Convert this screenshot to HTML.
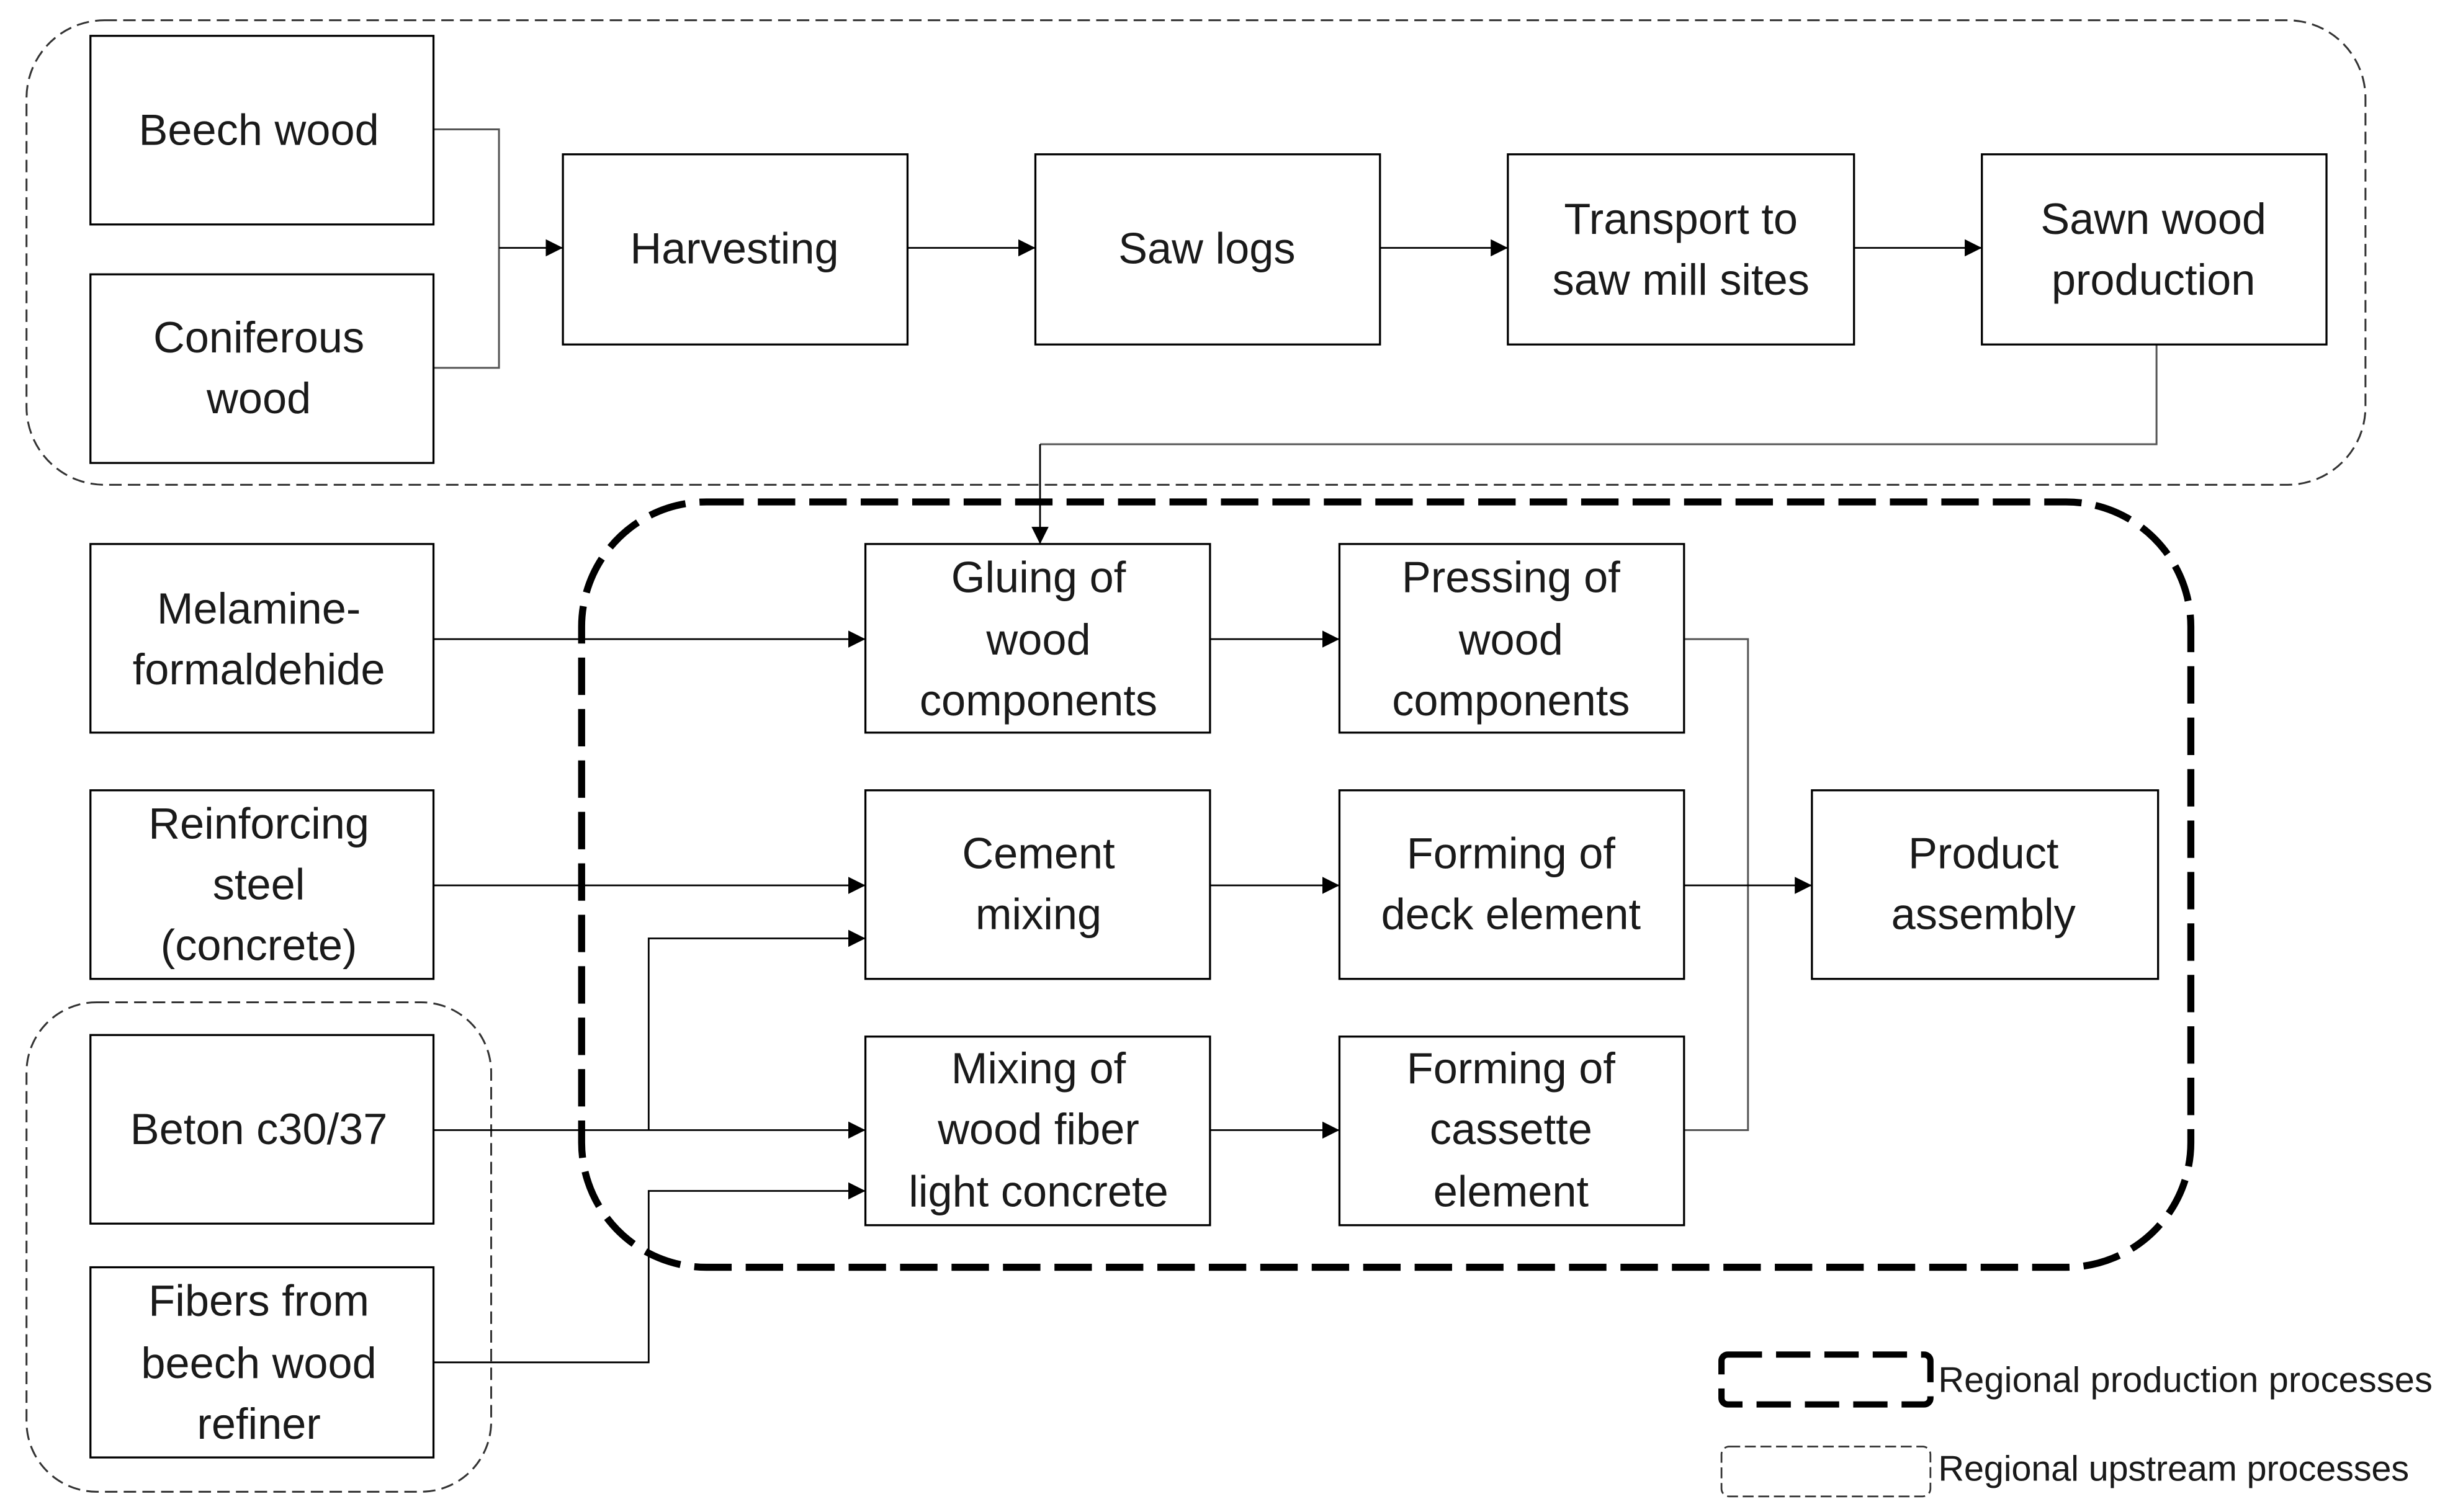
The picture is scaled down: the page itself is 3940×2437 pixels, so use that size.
<!DOCTYPE html>
<html><head><meta charset="utf-8"><style>
html,body{margin:0;padding:0;background:#fff;}
svg{display:block;}
text{font-family:"Liberation Sans",sans-serif;font-size:28px;fill:#1a1a1a;text-anchor:middle;}
.lg{font-size:23px;text-anchor:start;}
.b{fill:#fff;stroke:#000;stroke-width:1.3;}
.l{fill:none;stroke:#000;stroke-width:1.1;}
.g{fill:none;stroke:#555;stroke-width:1.2;}
</style></head><body>
<svg width="3940" height="2437" viewBox="0 0 1568 970" preserveAspectRatio="none">
<defs><marker id="a" viewBox="0 0 10 10" refX="10" refY="5" markerWidth="11" markerHeight="11" markerUnits="userSpaceOnUse" orient="auto"><path d="M0,0L10,5L0,10z" fill="#000"/></marker></defs>
<rect x="17" y="13" width="1500" height="298" rx="50" fill="none" stroke="#333" stroke-width="1.2" stroke-dasharray="8,4"/>
<rect x="17" y="643" width="298" height="314" rx="45" fill="none" stroke="#333" stroke-width="1.2" stroke-dasharray="8,4"/>
<rect x="373" y="322" width="1032" height="491" rx="80" fill="none" stroke="#000" stroke-width="4.5" stroke-dasharray="24,9"/>
<polyline class="g" points="278,83 320,83 320,236 278,236"/>
<line class="l" x1="320" y1="159" x2="361" y2="159" marker-end="url(#a)"/>
<line class="l" x1="582" y1="159" x2="664" y2="159" marker-end="url(#a)"/>
<line class="l" x1="885" y1="159" x2="967" y2="159" marker-end="url(#a)"/>
<line class="l" x1="1189" y1="159" x2="1271" y2="159" marker-end="url(#a)"/>
<polyline class="g" points="1383,221 1383,285 667,285"/>
<line class="l" x1="667" y1="285" x2="667" y2="349" marker-end="url(#a)"/>
<line class="l" x1="278" y1="410" x2="555" y2="410" marker-end="url(#a)"/>
<line class="l" x1="776" y1="410" x2="859" y2="410" marker-end="url(#a)"/>
<line class="l" x1="278" y1="568" x2="555" y2="568" marker-end="url(#a)"/>
<line class="l" x1="776" y1="568" x2="859" y2="568" marker-end="url(#a)"/>
<line class="l" x1="278" y1="725" x2="555" y2="725" marker-end="url(#a)"/>
<polyline class="l" points="416,725 416,602 555,602" marker-end="url(#a)"/>
<polyline class="l" points="278,874 416,874 416,764 555,764" marker-end="url(#a)"/>
<line class="l" x1="776" y1="725" x2="859" y2="725" marker-end="url(#a)"/>
<polyline class="g" points="1080,410 1121,410 1121,725 1080,725"/>
<line class="l" x1="1080" y1="568" x2="1162" y2="568" marker-end="url(#a)"/>
<rect class="b" x="58" y="23" width="220" height="121"/><text x="166" y="93">Beech wood</text>
<rect class="b" x="58" y="176" width="220" height="121"/><text x="166" y="226">Coniferous</text><text x="166" y="265">wood</text>
<rect class="b" x="361" y="99" width="221" height="122"/><text x="471" y="169">Harvesting</text>
<rect class="b" x="664" y="99" width="221" height="122"/><text x="774" y="169">Saw logs</text>
<rect class="b" x="967" y="99" width="222" height="122"/><text x="1078" y="150">Transport to</text><text x="1078" y="189">saw mill sites</text>
<rect class="b" x="1271" y="99" width="221" height="122"/><text x="1381" y="150">Sawn wood</text><text x="1381" y="189">production</text>
<rect class="b" x="58" y="349" width="220" height="121"/><text x="166" y="400">Melamine-</text><text x="166" y="439">formaldehide</text>
<rect class="b" x="58" y="507" width="220" height="121"/><text x="166" y="538">Reinforcing</text><text x="166" y="577">steel</text><text x="166" y="616">(concrete)</text>
<rect class="b" x="58" y="664" width="220" height="121"/><text x="166" y="734">Beton c30/37</text>
<rect class="b" x="58" y="813" width="220" height="122"/><text x="166" y="844">Fibers from</text><text x="166" y="884">beech wood</text><text x="166" y="923">refiner</text>
<rect class="b" x="555" y="349" width="221" height="121"/><text x="666" y="380">Gluing of</text><text x="666" y="420">wood</text><text x="666" y="459">components</text>
<rect class="b" x="555" y="507" width="221" height="121"/><text x="666" y="557">Cement</text><text x="666" y="596">mixing</text>
<rect class="b" x="555" y="665" width="221" height="121"/><text x="666" y="695">Mixing  of</text><text x="666" y="734">wood fiber</text><text x="666" y="774">light concrete</text>
<rect class="b" x="859" y="349" width="221" height="121"/><text x="969" y="380">Pressing of</text><text x="969" y="420">wood</text><text x="969" y="459">components</text>
<rect class="b" x="859" y="507" width="221" height="121"/><text x="969" y="557">Forming of</text><text x="969" y="596">deck element</text>
<rect class="b" x="859" y="665" width="221" height="121"/><text x="969" y="695">Forming of</text><text x="969" y="734">cassette</text><text x="969" y="774">element</text>
<rect class="b" x="1162" y="507" width="222" height="121"/><text x="1272" y="557">Product</text><text x="1272" y="596">assembly</text>
<rect x="1104" y="869" width="134" height="32" rx="4" fill="none" stroke="#000" stroke-width="4" stroke-dasharray="22,9"/>
<text class="lg" x="1243" y="893" textLength="317">Regional production processes</text>
<rect x="1104" y="928" width="134" height="32" rx="5" fill="none" stroke="#333" stroke-width="1.1" stroke-dasharray="7,3"/>
<text class="lg" x="1243" y="950" textLength="302">Regional upstream processes</text>
</svg>
</body></html>
